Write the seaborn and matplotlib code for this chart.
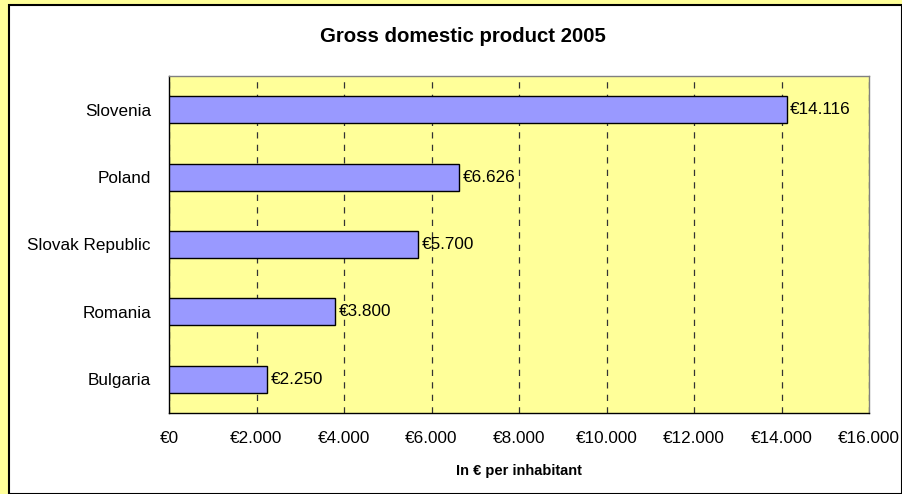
import matplotlib
matplotlib.use("Agg")
import matplotlib.pyplot as plt
import seaborn as sns
import pandas as pd
from matplotlib.patches import Rectangle
from matplotlib.ticker import FixedLocator, FuncFormatter

countries = ["Slovenia", "Poland", "Slovak Republic", "Romania", "Bulgaria"]
gdp = [14116, 6626, 5700, 3800, 2250]
x_ticks = [0, 2000, 4000, 6000, 8000, 10000, 12000, 14000, 16000]
title = "Gross domestic product 2005"
xlabel = "In € per inhabitant"

def euro(v):
    return "€" + f"{int(v):,}".replace(",", ".")

sns.set_style("white")
plt.rcParams["font.family"] = ["Liberation Sans", "DejaVu Sans"]
plt.rcParams["text.color"] = "black"
plt.rcParams["xtick.color"] = "black"
plt.rcParams["ytick.color"] = "black"
plt.rcParams["axes.labelcolor"] = "black"

df = pd.DataFrame({"country": countries, "gdp": gdp})

fig = plt.figure(figsize=(9.02, 4.94), dpi=100)
fig.patch.set_facecolor("#FFFF99")
W, H = 902, 494
# inner white panel with black border
fig.patches.append(Rectangle((9 / W, 0), 1 - 9 / W, 1 - 5 / H, transform=fig.transFigure,
                             facecolor="white", edgecolor="black", linewidth=1.5, zorder=-10))

ax = fig.add_axes([169 / W, 1 - 413 / H, (869 - 169) / W, (413 - 76) / H])
ax.set_facecolor("#FFFF99")

sns.barplot(data=df, y="country", x="gdp", orient="h", color="#9999FF", saturation=1,
            edgecolor="black", linewidth=1, width=0.4, ax=ax, zorder=3)

ax.set_xlim(0, 16000)
ax.set_ylim(4.5, -0.5)
ax.xaxis.set_major_locator(FixedLocator(x_ticks))
ax.xaxis.set_major_formatter(FuncFormatter(lambda v, p: euro(v)))
ax.grid(axis="x", color="#333333", linestyle=(0, (5, 5)), linewidth=0.9, zorder=1)
ax.grid(axis="y", visible=False)

for i, v in enumerate(gdp):
    ax.text(v + 80, i, euro(v), va="center", ha="left", fontsize=12.3, zorder=4)

ax.set_ylabel("")
ax.set_xlabel(xlabel, fontsize=10.5, fontweight="bold", labelpad=13)
ax.tick_params(axis="x", length=0, labelsize=12.3, pad=13)
ax.tick_params(axis="y", which="major", length=0, labelsize=12.3, pad=13)
ax.set_yticks([-0.5, 0.5, 1.5, 2.5, 3.5, 4.5], minor=True)
ax.tick_params(axis="y", which="minor", length=5, direction="out", color="black", width=1)

for side in ["top", "right"]:
    ax.spines[side].set_color("#808080")
    ax.spines[side].set_linewidth(1)
for side in ["left", "bottom"]:
    ax.spines[side].set_color("black")
    ax.spines[side].set_linewidth(1)

fig.text(463 / W, 1 - 36 / H, title, ha="center", va="center", fontsize=14.7, fontweight="bold")

fig.savefig("out.png", dpi=100, facecolor=fig.get_facecolor())
